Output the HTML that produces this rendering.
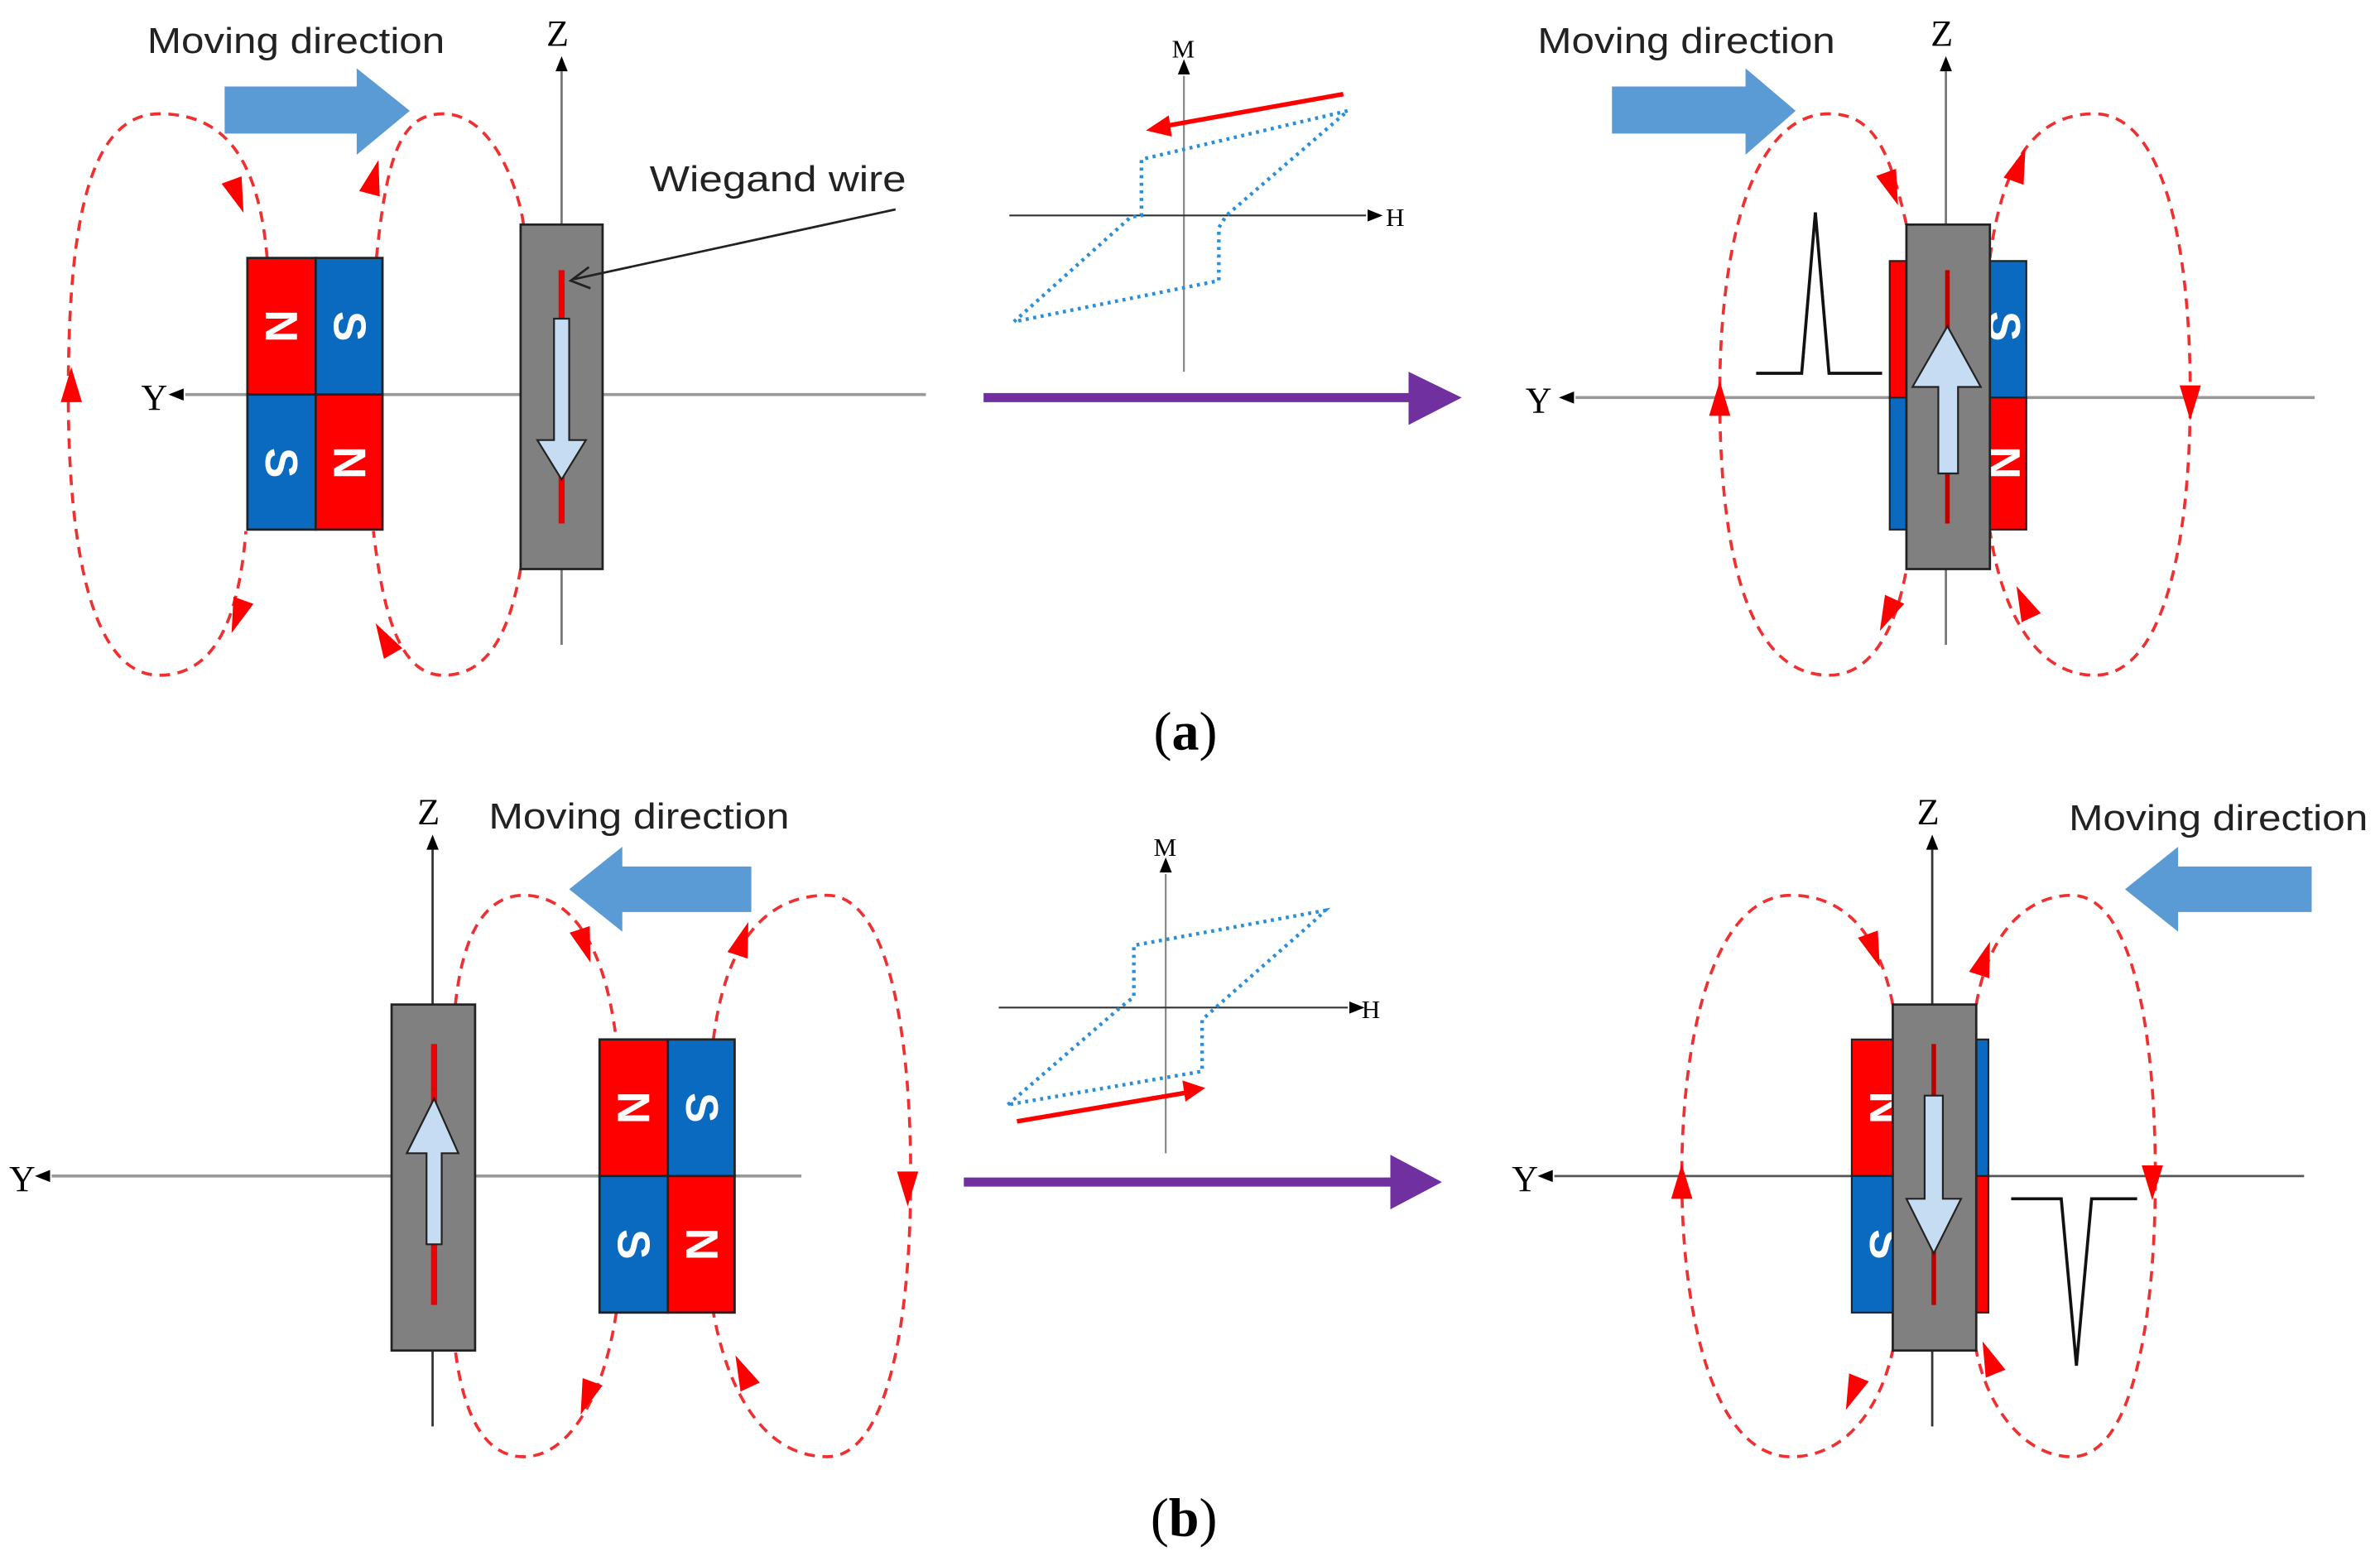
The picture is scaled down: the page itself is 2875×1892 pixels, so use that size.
<!DOCTYPE html>
<html><head><meta charset="utf-8"><style>
html,body{margin:0;padding:0;background:#fff}
svg{display:block}
.mv{font-family:"Liberation Sans",sans-serif;font-size:24px;fill:#222}
.ax{font-family:"Liberation Serif",serif;font-size:24px;fill:#000}
.sm{font-family:"Liberation Serif",serif;font-size:17px;fill:#000}
.mg{font-family:"Liberation Sans",sans-serif;font-size:30px;fill:#fff;font-weight:bold}
.lp{fill:none;stroke:#f03030;stroke-width:2;stroke-dasharray:7 5}
.lb{font-family:"Liberation Serif",serif;font-size:36px;fill:#000}
</style></head><body>
<svg width="2875" height="1892" viewBox="0 0 1568 1032" preserveAspectRatio="none" xmlns="http://www.w3.org/2000/svg">
<defs>
<polygon id="ah" points="13,0 -10,-7 -10,7" fill="#f00"/>
<polygon id="ka" points="7,0 -3,-4 -3,4" fill="#000"/>
</defs>
<rect width="1568" height="1032" fill="#fff"/>

<!-- ===== (a) left ===== -->
<text class="mv" x="97" y="35" textLength="196" lengthAdjust="spacingAndGlyphs">Moving direction</text>
<polygon points="148,57 235,57 235,45 270,73 235,102 235,88 148,88" fill="#5b9bd5"/>
<line x1="122" y1="260" x2="610" y2="260" stroke="#999" stroke-width="2"/>
<use href="#ka" transform="translate(118,260) rotate(180)"/>
<text class="ax" x="93" y="270">Y</text>
<line x1="370" y1="425" x2="370" y2="47" stroke="#777" stroke-width="1.5"/>
<use href="#ka" transform="translate(370,44) rotate(-90)"/>
<text class="ax" x="360" y="30">Z</text>
<path class="lp" d="M176,170 C170,100 145,75 105,75 C55,75 45,160 45,260 C45,360 60,445 105,445 C145,445 158,400 162,350"/>
<path class="lp" d="M248,170 C255,100 265,75 292,75 C330,75 345,140 345,150 M343,375 C335,420 320,445 292,445 C262,445 252,400 246,350"/>
<use href="#ah" transform="translate(156,128) rotate(70)"/>
<use href="#ah" transform="translate(246,118) rotate(-75)"/>
<use href="#ah" transform="translate(47,255) rotate(-90)"/>
<use href="#ah" transform="translate(157,405) rotate(110)"/>
<use href="#ah" transform="translate(254,422) rotate(-120)"/>
<g stroke="#222" stroke-width="1.5">
<rect x="163" y="170" width="45" height="90" fill="#f00"/>
<rect x="208" y="170" width="44" height="90" fill="#0a6ac0"/>
<rect x="163" y="260" width="45" height="89" fill="#0a6ac0"/>
<rect x="208" y="260" width="44" height="89" fill="#f00"/>
</g>
<text class="mg" transform="translate(175,215) rotate(90)" text-anchor="middle">N</text>
<text class="mg" transform="translate(220,215) rotate(90)" text-anchor="middle">S</text>
<text class="mg" transform="translate(175,305) rotate(90)" text-anchor="middle">S</text>
<text class="mg" transform="translate(220,305) rotate(90)" text-anchor="middle">N</text>
<rect x="343" y="148" width="54" height="227" fill="#808080" stroke="#222" stroke-width="1.5"/>
<line x1="370" y1="178" x2="370" y2="345" stroke="#e00" stroke-width="4"/>
<polygon points="365,210 375,210 375,290 386,290 370,316 354,290 365,290" fill="#c5dcf3" stroke="#222" stroke-width="1.2"/>
<text class="mv" x="428" y="126" textLength="169" lengthAdjust="spacingAndGlyphs">Wiegand wire</text>
<line x1="590" y1="138" x2="378" y2="184" stroke="#222" stroke-width="1.5"/>
<polyline points="388,176 376,185 389,190" fill="none" stroke="#222" stroke-width="1.5"/>

<!-- ===== (a) center ===== -->
<line x1="780" y1="245" x2="780" y2="50" stroke="#888" stroke-width="1.2"/>
<use href="#ka" transform="translate(780,46) rotate(-90)"/>
<text class="sm" x="772" y="38">M</text>
<line x1="665" y1="142" x2="900" y2="142" stroke="#333" stroke-width="1.2"/>
<use href="#ka" transform="translate(904,142)"/>
<text class="sm" x="913" y="149">H</text>
<path d="M668,212 L745,143 L752,142 L752,105 L888,73 L808,142 L803,150 L803,185 Z" fill="none" stroke="#2a8fd8" stroke-width="2.4" stroke-dasharray="2 3"/>
<line x1="885" y1="62" x2="768" y2="83" stroke="#f00" stroke-width="3"/>
<polygon points="755,86 770,76 772,90" fill="#f00"/>
<line x1="648" y1="262" x2="930" y2="262" stroke="#7030a0" stroke-width="6"/>
<polygon points="928,245 963,262 928,280" fill="#7030a0"/>
<text class="lb" x="760" y="494">(<tspan font-weight="bold">a</tspan>)</text>

<!-- ===== (a) right ===== -->
<text class="mv" x="1013" y="35" textLength="196" lengthAdjust="spacingAndGlyphs">Moving direction</text>
<polygon points="1062,57 1150,57 1150,45 1183,73 1150,102 1150,88 1062,88" fill="#5b9bd5"/>
<line x1="1038" y1="262" x2="1525" y2="262" stroke="#999" stroke-width="2"/>
<use href="#ka" transform="translate(1034,262) rotate(180)"/>
<text class="ax" x="1005" y="272">Y</text>
<line x1="1282" y1="425" x2="1282" y2="47" stroke="#777" stroke-width="1.5"/>
<use href="#ka" transform="translate(1282,44) rotate(-90)"/>
<text class="ax" x="1272" y="30">Z</text>
<path class="lp" d="M1256,148 C1245,100 1235,75 1205,75 C1155,75 1133,160 1133,260 C1133,360 1150,445 1205,445 C1235,445 1250,410 1256,375"/>
<path class="lp" d="M1311,170 C1320,100 1345,75 1380,75 C1425,75 1443,160 1443,260 C1443,360 1425,445 1380,445 C1345,445 1320,410 1311,350"/>
<use href="#ah" transform="translate(1246,123) rotate(70)"/>
<use href="#ah" transform="translate(1133,264) rotate(-90)"/>
<use href="#ah" transform="translate(1244,404) rotate(115)"/>
<use href="#ah" transform="translate(1330,110) rotate(-70)"/>
<use href="#ah" transform="translate(1443,264) rotate(90)"/>
<use href="#ah" transform="translate(1334,398) rotate(-115)"/>
<path d="M1157,246 L1187,246 L1196,140 L1205,246 L1240,246" fill="none" stroke="#111" stroke-width="2"/>
<g stroke="#222" stroke-width="1.2">
<rect x="1245" y="172" width="45" height="90" fill="#f00"/>
<rect x="1290" y="172" width="45" height="90" fill="#0a6ac0"/>
<rect x="1245" y="262" width="45" height="87" fill="#0a6ac0"/>
<rect x="1290" y="262" width="45" height="87" fill="#f00"/>
</g>
<text class="mg" transform="translate(1310,215) rotate(90)" text-anchor="middle">S</text>
<text class="mg" transform="translate(1310,305) rotate(90)" text-anchor="middle">N</text>
<rect x="1256" y="148" width="55" height="227" fill="#808080" stroke="#222" stroke-width="1.5"/>
<line x1="1283" y1="178" x2="1283" y2="345" stroke="#b00" stroke-width="3"/>
<polygon points="1277,312 1290,312 1290,255 1305,255 1283,215 1260,255 1277,255" fill="#c5dcf3" stroke="#222" stroke-width="1.2"/>

<!-- ===== (b) left ===== -->
<text class="mv" x="322" y="546" textLength="198" lengthAdjust="spacingAndGlyphs">Moving direction</text>
<polygon points="495,571 410,571 410,558 375,586 410,614 410,601 495,601" fill="#5b9bd5"/>
<line x1="34" y1="775" x2="528" y2="775" stroke="#999" stroke-width="2"/>
<use href="#ka" transform="translate(30,775) rotate(180)"/>
<text class="ax" x="6" y="785">Y</text>
<line x1="285" y1="940" x2="285" y2="560" stroke="#333" stroke-width="1.5"/>
<use href="#ka" transform="translate(285,557) rotate(-90)"/>
<text class="ax" x="275" y="543">Z</text>
<path class="lp" d="M300,662 C305,615 320,590 345,590 C375,590 398,620 406,685 M406,865 C398,920 375,960 345,960 C318,960 305,930 300,890"/>
<path class="lp" d="M470,685 C478,620 505,590 545,590 C585,590 600,680 600,775 C600,870 585,960 545,960 C505,960 480,920 470,865"/>
<use href="#ah" transform="translate(385,622) rotate(72)"/>
<use href="#ah" transform="translate(387,920) rotate(110)"/>
<use href="#ah" transform="translate(489,620) rotate(-72)"/>
<use href="#ah" transform="translate(598,782) rotate(90)"/>
<use href="#ah" transform="translate(490,905) rotate(-115)"/>
<rect x="258" y="662" width="55" height="228" fill="#808080" stroke="#222" stroke-width="1.5"/>
<line x1="286" y1="688" x2="286" y2="860" stroke="#e00" stroke-width="4"/>
<polygon points="281,820 291,820 291,760 302,760 286,724 268,760 281,760" fill="#c5dcf3" stroke="#222" stroke-width="1.2"/>
<g stroke="#222" stroke-width="1.5">
<rect x="395" y="685" width="45" height="90" fill="#f00"/>
<rect x="440" y="685" width="44" height="90" fill="#0a6ac0"/>
<rect x="395" y="775" width="45" height="90" fill="#0a6ac0"/>
<rect x="440" y="775" width="44" height="90" fill="#f00"/>
</g>
<text class="mg" transform="translate(407,730) rotate(90)" text-anchor="middle">N</text>
<text class="mg" transform="translate(452,730) rotate(90)" text-anchor="middle">S</text>
<text class="mg" transform="translate(407,820) rotate(90)" text-anchor="middle">S</text>
<text class="mg" transform="translate(452,820) rotate(90)" text-anchor="middle">N</text>

<!-- ===== (b) center ===== -->
<line x1="768" y1="760" x2="768" y2="576" stroke="#888" stroke-width="1.2"/>
<use href="#ka" transform="translate(768,572) rotate(-90)"/>
<text class="sm" x="760" y="564">M</text>
<line x1="658" y1="664" x2="888" y2="664" stroke="#333" stroke-width="1.2"/>
<use href="#ka" transform="translate(892,664)"/>
<text class="sm" x="897" y="671">H</text>
<path d="M664,728 L738,664 L747,657 L747,623 L873,600 L868,605 L802,663 L792,672 L792,706 Z" fill="none" stroke="#2a8fd8" stroke-width="2.4" stroke-dasharray="2 3"/>
<line x1="670" y1="739" x2="782" y2="720" stroke="#f00" stroke-width="3"/>
<polygon points="794,717 779,712 781,726" fill="#f00"/>
<line x1="635" y1="779" x2="918" y2="779" stroke="#7030a0" stroke-width="6"/>
<polygon points="916,761 950,779 916,797" fill="#7030a0"/>
<text class="lb" x="758" y="1012">(<tspan font-weight="bold">b</tspan>)</text>

<!-- ===== (b) right ===== -->
<text class="mv" x="1363" y="547" textLength="197" lengthAdjust="spacingAndGlyphs">Moving direction</text>
<polygon points="1523,571 1435,571 1435,558 1400,586 1435,614 1435,601 1523,601" fill="#5b9bd5"/>
<line x1="1024" y1="775" x2="1518" y2="775" stroke="#555" stroke-width="1.5"/>
<use href="#ka" transform="translate(1020,775) rotate(180)"/>
<text class="ax" x="996" y="785">Y</text>
<line x1="1273" y1="940" x2="1273" y2="560" stroke="#333" stroke-width="1.5"/>
<use href="#ka" transform="translate(1273,557) rotate(-90)"/>
<text class="ax" x="1263" y="543">Z</text>
<path class="lp" d="M1247,662 C1238,615 1215,590 1180,590 C1130,590 1108,680 1108,775 C1108,870 1130,960 1180,960 C1215,960 1238,930 1247,890"/>
<path class="lp" d="M1302,662 C1310,615 1335,590 1365,590 C1405,590 1420,680 1420,775 C1420,870 1405,960 1365,960 C1335,960 1310,930 1302,890"/>
<use href="#ah" transform="translate(1234,625) rotate(70)"/>
<use href="#ah" transform="translate(1108,780) rotate(-90)"/>
<use href="#ah" transform="translate(1221,917) rotate(112)"/>
<use href="#ah" transform="translate(1307,633) rotate(-72)"/>
<use href="#ah" transform="translate(1418,778) rotate(90)"/>
<use href="#ah" transform="translate(1311,896) rotate(-112)"/>
<g stroke="#222" stroke-width="1.2">
<rect x="1220" y="685" width="45" height="90" fill="#f00"/>
<rect x="1265" y="685" width="45" height="90" fill="#0a6ac0"/>
<rect x="1220" y="775" width="45" height="90" fill="#0a6ac0"/>
<rect x="1265" y="775" width="45" height="90" fill="#f00"/>
</g>
<text class="mg" transform="translate(1232,730) rotate(90)" text-anchor="middle">N</text>
<text class="mg" transform="translate(1232,820) rotate(90)" text-anchor="middle">S</text>
<rect x="1247" y="662" width="55" height="228" fill="#808080" stroke="#222" stroke-width="1.5"/>
<line x1="1274" y1="688" x2="1274" y2="860" stroke="#b00" stroke-width="3"/>
<polygon points="1268,722 1280,722 1280,790 1292,790 1274,826 1256,790 1268,790" fill="#c5dcf3" stroke="#222" stroke-width="1.2"/>
<path d="M1325,790 L1358,790 L1368,900 L1378,790 L1408,790" fill="none" stroke="#111" stroke-width="2"/>
</svg>
</body></html>
